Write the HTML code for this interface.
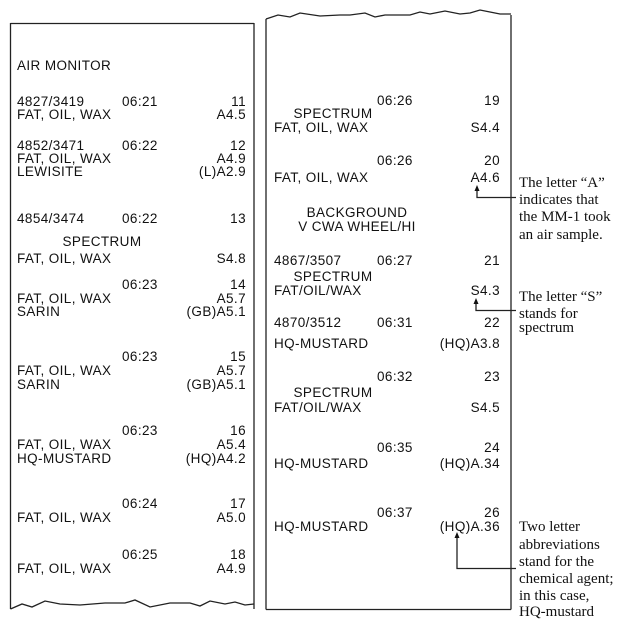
<!DOCTYPE html>
<html><head><meta charset="utf-8"><style>
html,body{margin:0;padding:0;background:#fff;}
svg{display:block;}
.m{font-family:"Liberation Sans",Arial,sans-serif;font-size:13.5px;letter-spacing:0.4px;fill:#111;}
.r{text-anchor:end;}
.c{text-anchor:middle;}
.s{font-family:"Liberation Serif","Times New Roman",serif;font-size:15px;fill:#111;}
</style></head><body>
<svg width="625" height="625" viewBox="0 0 625 625" xmlns="http://www.w3.org/2000/svg">
<g fill="none" stroke="#222" stroke-width="1.3">
<path d="M10.5,23.5 H254 M10.5,23 V609 M254,23 V609"/>
<path d="M10.5,609 L22,604 L32,607 L45,601 L60,604 L80,605 L105,603 L125,603 L135,600 L150,607 L170,603 L190,603 L200,606 L210,601 L225,604 L235,602 L245,605 L254,604"/>
<path d="M266,609.5 H511 M266,19 V609.5 M511,15 V609.5"/>
<path d="M266,19 L278,15 L290,17 L300,13 L320,16 L340,15 L350,15 L365,13 L375,17 L385,15 L410,15 L420,12 L430,14 L445,11 L460,14 L470,13 L480,10 L490,12 L500,14 L511,14"/>
<path d="M477,188 V197.5 H516"/>
<path d="M476,301 V310.5 H516"/>
<path d="M457,535 V568.5 H516"/>
</g>
<g fill="#111">
<path d="M477,185 L474.5,191 L479.5,191Z"/>
<path d="M476,298 L473.5,304 L478.5,304Z"/>
<path d="M457,532 L454.5,538 L459.5,538Z"/>
</g>
<g class="m">
<text x="17" y="70">AIR MONITOR</text>
<text x="17" y="106">4827/3419</text><text x="122" y="106">06:21</text><text x="246" y="106" class="r">11</text>
<text x="17" y="119">FAT, OIL, WAX</text><text x="246" y="119" class="r">A4.5</text>
<text x="17" y="150">4852/3471</text><text x="122" y="150">06:22</text><text x="246" y="150" class="r">12</text>
<text x="17" y="163">FAT, OIL, WAX</text><text x="246" y="163" class="r">A4.9</text>
<text x="17" y="176">LEWISITE</text><text x="246" y="176" class="r">(L)A2.9</text>
<text x="17" y="223">4854/3474</text><text x="122" y="223">06:22</text><text x="246" y="223" class="r">13</text>
<text x="102" y="246" class="c">SPECTRUM</text>
<text x="17" y="263">FAT, OIL, WAX</text><text x="246" y="263" class="r">S4.8</text>
<text x="122" y="289">06:23</text><text x="246" y="289" class="r">14</text>
<text x="17" y="303">FAT, OIL, WAX</text><text x="246" y="303" class="r">A5.7</text>
<text x="17" y="316">SARIN</text><text x="246" y="316" class="r">(GB)A5.1</text>
<text x="122" y="361">06:23</text><text x="246" y="361" class="r">15</text>
<text x="17" y="375">FAT, OIL, WAX</text><text x="246" y="375" class="r">A5.7</text>
<text x="17" y="389">SARIN</text><text x="246" y="389" class="r">(GB)A5.1</text>
<text x="122" y="435">06:23</text><text x="246" y="435" class="r">16</text>
<text x="17" y="449">FAT, OIL, WAX</text><text x="246" y="449" class="r">A5.4</text>
<text x="17" y="463">HQ-MUSTARD</text><text x="246" y="463" class="r">(HQ)A4.2</text>
<text x="122" y="508">06:24</text><text x="246" y="508" class="r">17</text>
<text x="17" y="522">FAT, OIL, WAX</text><text x="246" y="522" class="r">A5.0</text>
<text x="122" y="559">06:25</text><text x="246" y="559" class="r">18</text>
<text x="17" y="573">FAT, OIL, WAX</text><text x="246" y="573" class="r">A4.9</text>

<text x="377" y="105">06:26</text><text x="500" y="105" class="r">19</text>
<text x="333" y="118" class="c">SPECTRUM</text>
<text x="274" y="132">FAT, OIL, WAX</text><text x="500" y="132" class="r">S4.4</text>
<text x="377" y="165">06:26</text><text x="500" y="165" class="r">20</text>
<text x="274" y="182">FAT, OIL, WAX</text><text x="500" y="182" class="r">A4.6</text>
<text x="357" y="217" class="c">BACKGROUND</text>
<text x="357" y="231" class="c">V CWA WHEEL/HI</text>
<text x="274" y="265">4867/3507</text><text x="377" y="265">06:27</text><text x="500" y="265" class="r">21</text>
<text x="333" y="281" class="c">SPECTRUM</text>
<text x="274" y="295">FAT/OIL/WAX</text><text x="500" y="295" class="r">S4.3</text>
<text x="274" y="327">4870/3512</text><text x="377" y="327">06:31</text><text x="500" y="327" class="r">22</text>
<text x="274" y="348">HQ-MUSTARD</text><text x="500" y="348" class="r">(HQ)A3.8</text>
<text x="377" y="381">06:32</text><text x="500" y="381" class="r">23</text>
<text x="333" y="397" class="c">SPECTRUM</text>
<text x="274" y="412">FAT/OIL/WAX</text><text x="500" y="412" class="r">S4.5</text>
<text x="377" y="452">06:35</text><text x="500" y="452" class="r">24</text>
<text x="274" y="468">HQ-MUSTARD</text><text x="500" y="468" class="r">(HQ)A.34</text>
<text x="377" y="517">06:37</text><text x="500" y="517" class="r">26</text>
<text x="274" y="531">HQ-MUSTARD</text><text x="500" y="531" class="r">(HQ)A.36</text>
</g>
<g class="s">
<text x="519" y="187">The letter “A”</text>
<text x="519" y="204">indicates that</text>
<text x="519" y="221">the MM-1 took</text>
<text x="519" y="239">an air sample.</text>
<text x="519" y="301">The letter “S”</text>
<text x="519" y="318">stands for</text>
<text x="519" y="332">spectrum</text>
<text x="519" y="531">Two letter</text>
<text x="519" y="549">abbreviations</text>
<text x="519" y="566">stand for the</text>
<text x="519" y="583">chemical agent;</text>
<text x="519" y="600">in this case,</text>
<text x="519" y="616">HQ-mustard</text>
</g>
</svg>
</body></html>
